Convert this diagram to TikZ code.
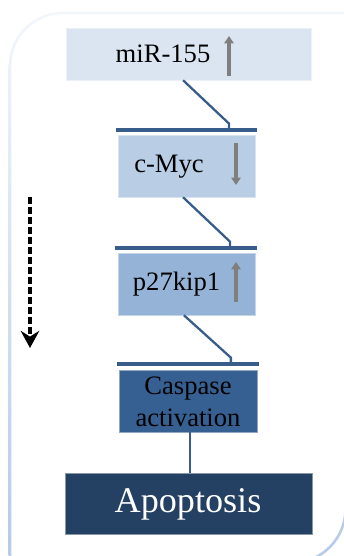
\documentclass[tikz,border=0pt]{standalone}
\usepackage{fontspec}
\setmainfont{Liberation Serif}
\usetikzlibrary{arrows.meta}
\tikzset{>=stealth}
\definecolor{boxA}{HTML}{DBE5F1}
\definecolor{boxB}{HTML}{B9CDE5}
\definecolor{boxC}{HTML}{95B3D7}
\definecolor{boxD}{HTML}{366092}
\definecolor{boxE}{HTML}{244062}
\definecolor{linkblue}{HTML}{385D8A}
\definecolor{trendgray}{HTML}{7F7F7F}
\definecolor{framehi}{HTML}{F3F6FB}
\definecolor{framelo}{HTML}{B4CAE6}
\tikzset{
  box/.style={rectangle, inner sep=0pt, fill=#1, draw=white!45!#1, line width=0.5pt},
  bar/.style={rectangle, inner sep=0pt, minimum height=1.1mm, minimum width=49.4mm, fill=linkblue},
  link/.style={linkblue, line width=0.8mm},
  tag/.style={inner sep=0pt, font=\fontsize{26.5}{32}\selectfont},
  trend/.style={-{Triangle[length=2.6mm, width=3.3mm]}, line width=1.4mm, trendgray}
}

\begin{document}
\begin{tikzpicture}[x=0.35mm, y=-0.35mm]
	\useasboundingbox (0,0) rectangle (344,556);
	\clip (0,0) rectangle (344,556);
	\shade [top color=framehi, bottom color=framelo, even odd rule]
		(8.7,564.3) -- (8.7,66) arc [start angle=180, end angle=270, radius=54.3] -- (346.8,11.7)
		-- (346.8,509) arc [start angle=0, end angle=90, radius=55.3] -- cycle
		(11.3,561.7) -- (11.3,66) arc [start angle=180, end angle=270, radius=51.7] -- (344.2,14.3)
		-- (344.2,509) arc [start angle=0, end angle=90, radius=52.7] -- cycle;
	% boxes
	\node [box=boxA, minimum width=85.75mm, minimum height=18.2mm] (mir) at (188.5,54) {};
	\node [box=boxB, minimum width=47.95mm, minimum height=21.7mm] (myc) at (186.5,166) {};
	\node [box=boxC, minimum width=47.95mm, minimum height=21.7mm] (kip) at (186.5,284) {};
	\node [box=boxD, minimum width=48.3mm, minimum height=21.7mm] (casp) at (188,401) {};
	\node [box=boxE, minimum width=86.45mm, minimum height=21.35mm] (apop) at (188.5,503.5) {};
	\node [bar] (barA) at (186.5,130) {};
	\node [bar] (barB) at (186,248) {};
	\node [bar] (barC) at (188,364) {};
	% texts
	\node [tag, anchor=base] (mirtxt) at (163,63) {miR-155};
	\node [tag, anchor=base] (myctxt) at (169,173) {c-Myc};
	\node [tag, anchor=base] (kiptxt) at (176.5,290) {p27kip1};
	\node [tag, align=center] (casptxt) at (188,402) {Caspase\\activation};
	\node [inner sep=0pt, anchor=base, text=white, font=\fontsize{36}{40}\selectfont] (apoptxt) at (188,512) {Apoptosis};
	\draw [trend] (229,76) -- (229,36);
	\draw [trend] (236,143) -- (236,185);
	\draw [trend] (236,302) -- (236,262);
	% links
	\draw [link] ([xshift=-1.9mm]mir.south) -- ([xshift=14.9mm, yshift=1.6mm]barA.north) -- ([xshift=14.9mm]barA.north);
	\draw [link] ([xshift=-1.2mm]myc.south) -- ([xshift=15.4mm, yshift=1.6mm]barB.north) -- ([xshift=15.4mm]barB.north);
	\draw [link] ([xshift=-0.9mm]kip.south) -- ([xshift=15mm, yshift=1.6mm]barC.north) -- ([xshift=15mm]barC.north);
	\draw [link] ([xshift=0.7mm]casp.south) -- ([xshift=0.7mm]casp.south |- apop.north);
	% flow direction
	\coordinate (flowtop) at (30,197);
	\coordinate (flowend) at (30,348);
	\draw [-{Stealth[length=6mm, width=6.5mm, inset=2mm]}, line width=1.3mm, dash pattern=on 2.4mm off 1.1mm] (flowtop) -- (flowend);
\end{tikzpicture}
\end{document}
